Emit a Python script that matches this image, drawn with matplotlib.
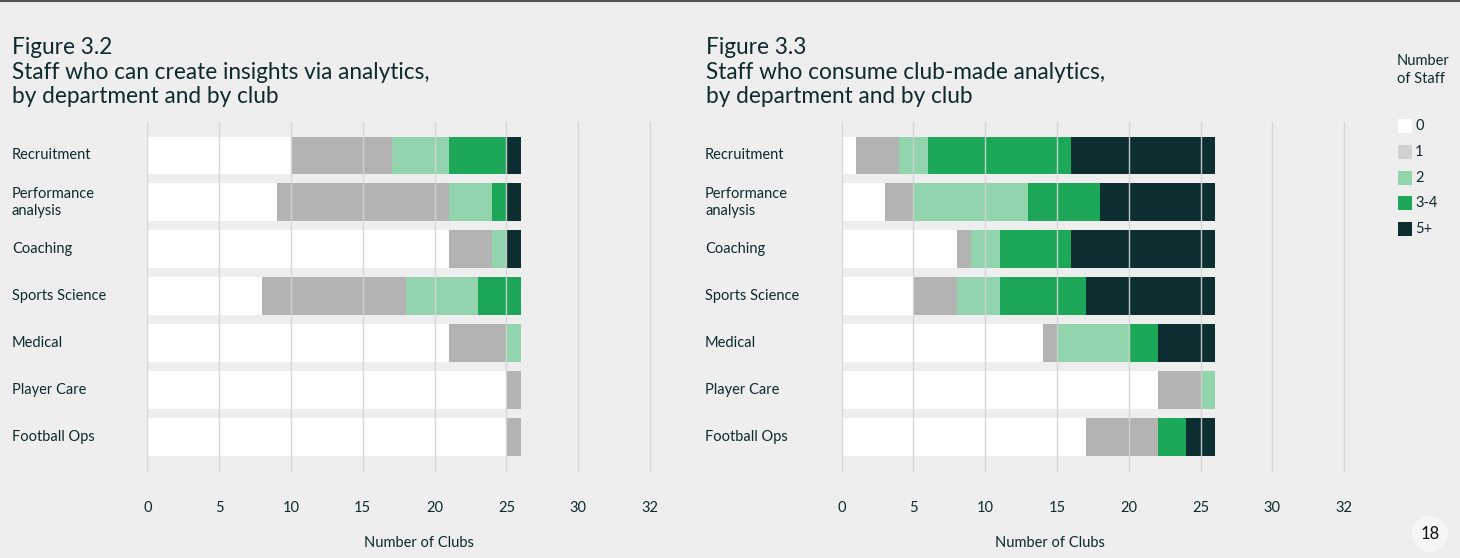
import matplotlib
matplotlib.use("Agg")
import matplotlib.pyplot as plt
import matplotlib.transforms as mtransforms
from matplotlib.patches import Rectangle, Circle
from matplotlib.lines import Line2D
import numpy as np

# data
departments = ["Recruitment", "Performance\nanalysis", "Coaching", "Sports Science",
               "Medical", "Player Care", "Football Ops"]
staff_groups = ["0", "1", "2", "3-4", "5+"]

# Figure 3.2 - staff who can create insights (clubs per staff band)
create_0 = [10, 9, 21, 8, 21, 25, 25]
create_1 = [7, 12, 3, 10, 4, 1, 1]
create_2 = [4, 3, 1, 5, 1, 0, 0]
create_34 = [4, 1, 0, 3, 0, 0, 0]
create_5p = [1, 1, 1, 0, 0, 0, 0]

# Figure 3.3 - staff who consume club-made analytics
consume_0 = [1, 3, 8, 5, 14, 22, 17]
consume_1 = [3, 2, 1, 3, 1, 3, 5]
consume_2 = [2, 8, 2, 3, 5, 1, 0]
consume_34 = [10, 5, 5, 6, 2, 0, 2]
consume_5p = [10, 8, 10, 9, 4, 0, 2]

x_ticks = [0, 5, 10, 15, 20, 25, 30, 35]
x_tick_labels = ["0", "5", "10", "15", "20", "25", "30", "32"]

colors = ["#ffffff", "#b3b3b3", "#92d5ad", "#1ca858", "#0d2e31"]
legend_colors = ["#ffffff", "#d0d1d1", "#92d5ad", "#1ca858", "#0d2e31"]
bg = "#eeeeee"
txt = "#0d2a2e"

plt.rcParams['font.family'] = ['Lato', 'DejaVu Sans']

W, H = 1460, 558
fig = plt.figure(figsize=(W / 100, H / 100), dpi=100, facecolor=bg)


def px_axes(x0, x1, ytop, ybot):
    return fig.add_axes([x0 / W, 1 - ybot / H, (x1 - x0) / W, (ybot - ytop) / H])


def draw_panel(ax, series, label_x, xlabel_x):
    ax.set_facecolor(bg)
    y = np.arange(len(departments))
    left = np.zeros(len(departments))
    for vals, c in zip(series, colors):
        ax.barh(y, vals, left=left, height=0.8, color=c, linewidth=0, zorder=1)
        left += np.array(vals)
    ax.set_xlim(0, 35.2)
    ax.set_ylim(6.75, -0.71)
    ax.set_xticks(x_ticks)
    ax.set_xticklabels(x_tick_labels, fontsize=10.5, color=txt)
    ax.tick_params(axis='x', length=0, pad=21)
    ax.set_yticks([])
    ax.grid(axis='x', color='#d4d6d6', linewidth=1, alpha=0.9, zorder=2)
    ax.set_axisbelow(False)
    for s in ax.spines.values():
        s.set_visible(False)
    tr = mtransforms.blended_transform_factory(fig.transFigure, ax.transData)
    for yi, name in zip(y, departments):
        ax.text(label_x / W, yi, name, transform=tr, ha='left', va='center',
                fontsize=10.5, color=txt, linespacing=1.3)
    fig.text(xlabel_x / W, 1 - 543 / H, "Number of Clubs", ha='center', va='center',
             fontsize=10.5, color=txt)


ax1 = px_axes(147.3, 653, 122, 472)
draw_panel(ax1, [create_0, create_1, create_2, create_34, create_5p], 12, 419)

ax2 = px_axes(841.7, 1347, 122, 472)
draw_panel(ax2, [consume_0, consume_1, consume_2, consume_34, consume_5p], 705, 1050)

# titles
fig.text(12 / W, 1 - 47 / H, "Figure 3.2", fontsize=16.3, color=txt, va='center')
fig.text(12 / W, 1 - 84.5 / H, "Staff who can create insights via analytics,\nby department and by club",
         fontsize=16.3, color=txt, va='center', linespacing=1.2)
fig.text(706 / W, 1 - 47 / H, "Figure 3.3", fontsize=16.3, color=txt, va='center')
fig.text(706 / W, 1 - 84.5 / H, "Staff who consume club-made analytics,\nby department and by club",
         fontsize=16.3, color=txt, va='center', linespacing=1.2)

# legend
fig.text(1397 / W, 1 - 70 / H, "Number\nof Staff", fontsize=10.5, color=txt, va='center',
         ha='left', linespacing=1.3)
for i, (lab, c) in enumerate(zip(staff_groups, legend_colors)):
    yc = 126 + i * 25.8
    fig.add_artist(Rectangle((1398 / W, 1 - (yc + 7) / H), 14 / W, 14 / H,
                             transform=fig.transFigure, facecolor=c, edgecolor='none'))
    fig.text(1415 / W, 1 - yc / H, lab, fontsize=10.5, color=txt, va='center', ha='left')

# page number
fig.add_artist(Circle((1430, H - 534), 18, transform=mtransforms.IdentityTransform(),
                      facecolor='#f6f6f6', edgecolor='none'))
fig.text(1430 / W, 1 - 534 / H, "18", fontsize=12, color='#111111', ha='center', va='center')

# thin top rule
fig.add_artist(Line2D([0, 1], [1 - 0.5 / H, 1 - 0.5 / H], transform=fig.transFigure,
                      color='#555555', linewidth=1.5))

fig.savefig("out.png", dpi=100, facecolor=bg)
